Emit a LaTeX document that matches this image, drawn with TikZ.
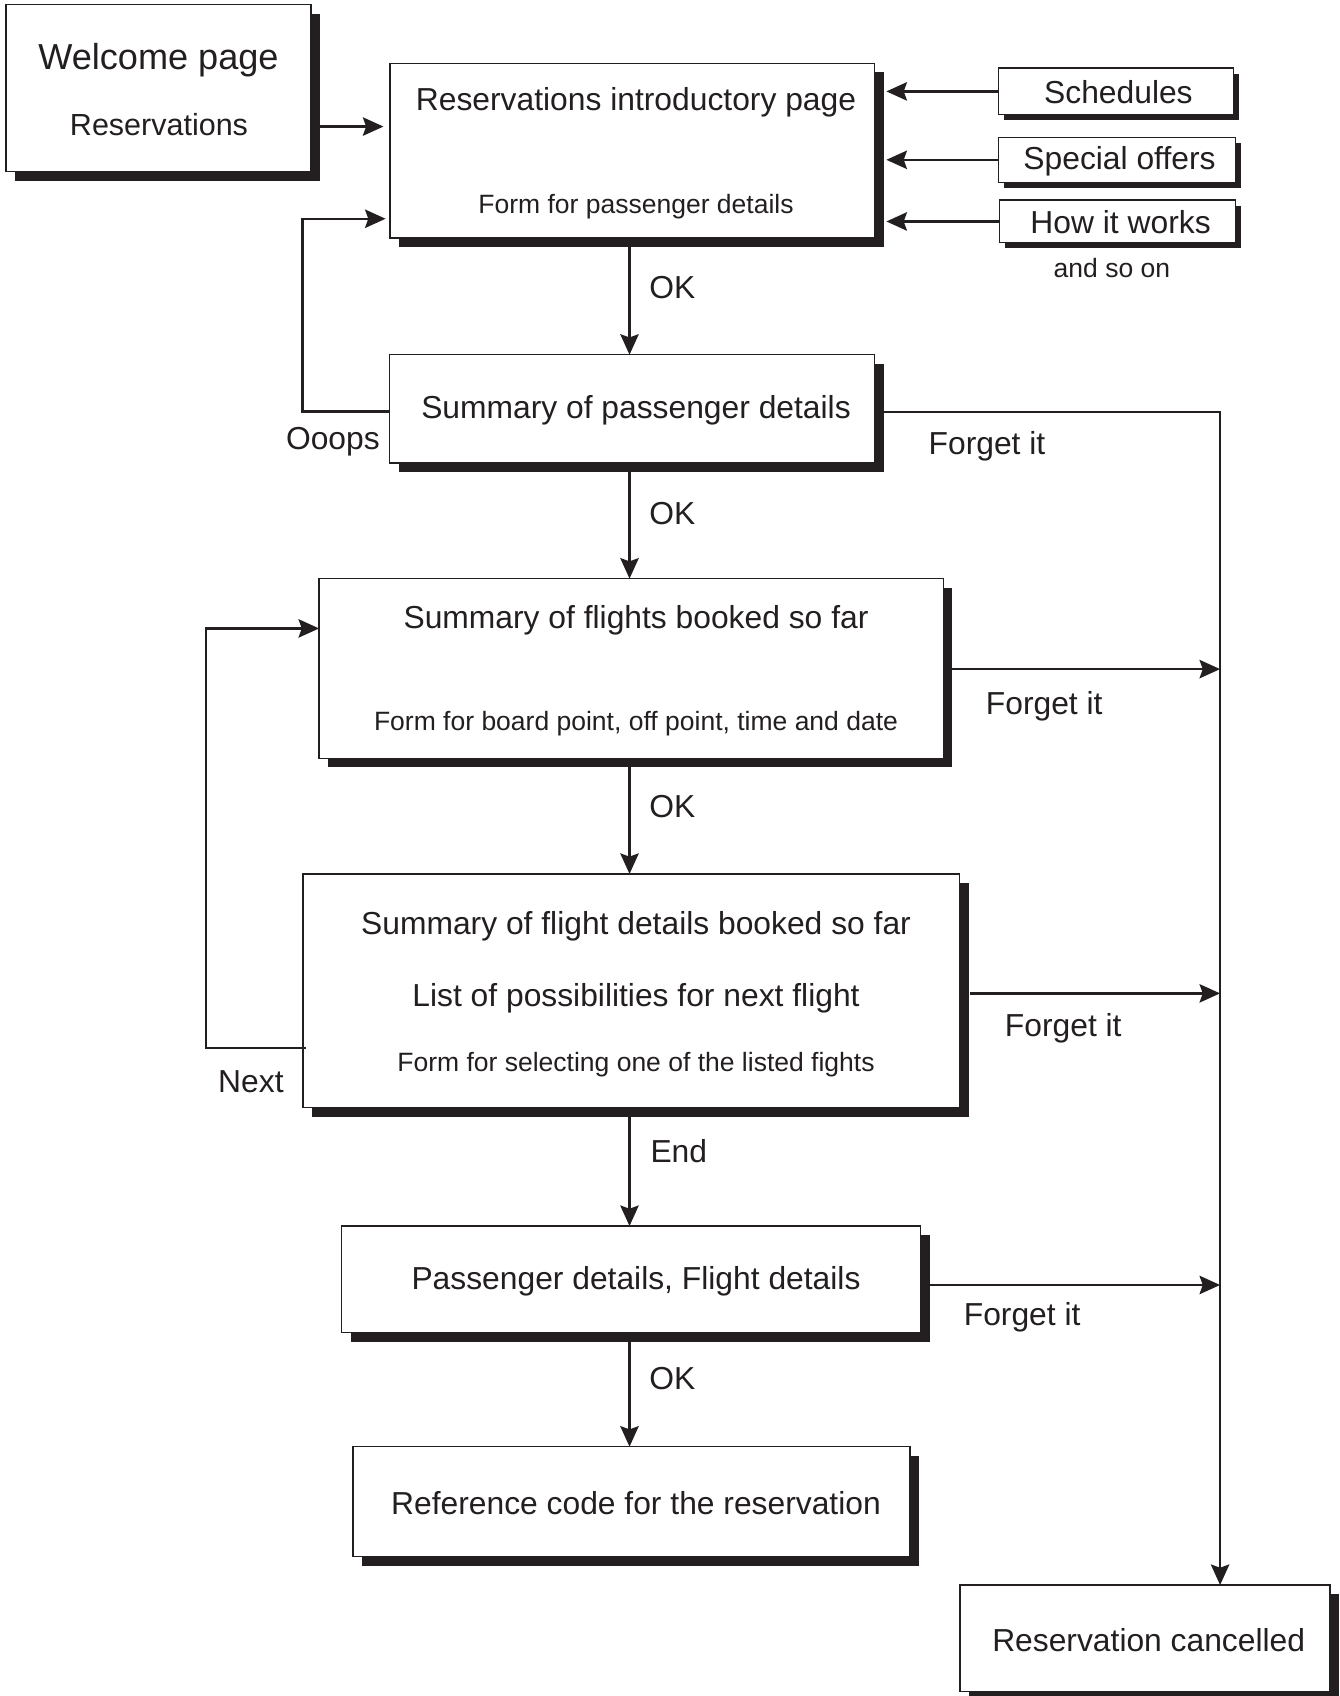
\documentclass[tikz,border=0pt]{standalone}
\usepackage{fontspec}
\setmainfont{Liberation Sans}
\usetikzlibrary{arrows.meta,calc,shadows}
\definecolor{ink}{HTML}{231F20}
\newcommand\txtbig{\fontsize{14.7pt}{17pt}\selectfont}
\newcommand\txtsmall{\fontsize{12.25pt}{14pt}\selectfont}
\newcommand\txtwelcome{\fontsize{16.7pt}{19pt}\selectfont}
\newcommand\txtres{\fontsize{14.1pt}{17pt}\selectfont}
\tikzset{
  boxbase/.style={rectangle, draw=ink, line width=0.6pt, fill=white, inner sep=0pt, outer sep=0pt},
  page/.style={boxbase, drop shadow={shadow xshift=4.25pt, shadow yshift=-4.25pt, fill=ink, opacity=1}},
  tab/.style={boxbase, drop shadow={shadow xshift=2.5pt, shadow yshift=-2.5pt, fill=ink, opacity=1}},
  txt/.style={inner sep=0pt, anchor=base, text=ink},
  big/.style={txt, font=\txtbig},
  small/.style={txt, font=\txtsmall},
  arr/.style={draw=ink, line width=1.1pt, -{Stealth[length=9.5pt, width=8.5pt, inset=1.5pt]}}
}
\begin{document}
\begin{tikzpicture}[x=0.5pt, y=-0.5pt]
\useasboundingbox (0,0) rectangle (1238,1568);

% ---- pages ----
\node[page, minimum width=141pt,    minimum height=77.35pt] (welcome)  at (146.5,81.35) {};
\node[page, minimum width=224pt,    minimum height=80.75pt] (intro)    at (584.5,139.25) {};
\node[tab,  minimum width=108.75pt, minimum height=21.5pt]  (sched)    at (1031.75,84.5) {};
\node[tab,  minimum width=109.75pt, minimum height=20.75pt] (offers)   at (1032.75,147.75) {};
\node[tab,  minimum width=109.25pt, minimum height=19.75pt] (how)      at (1033.25,204.75) {};
\node[page, minimum width=224.25pt, minimum height=50pt]    (sumpass)  at (584.25,378) {};
\node[page, minimum width=288.5pt,  minimum height=83pt]    (flights)  at (583.5,618) {};
\node[page, minimum width=303.5pt,  minimum height=108pt]   (fdetails) at (583.5,916) {};
\node[page, minimum width=267.5pt,  minimum height=49.25pt] (pfd)      at (583.5,1182.75) {};
\node[page, minimum width=257.5pt,  minimum height=50.75pt] (refcode)  at (583.9,1388.25) {};
\node[page, minimum width=171pt,    minimum height=49.3pt]  (cancel)   at (1058.65,1514.7) {};

% ---- page texts ----
\node[txt, font=\txtwelcome] (t-welcome) at (146.5,64) {Welcome page};
\node[txt, font=\txtres]     (t-res)     at (147,125.5) {Reservations};
\node[big]   (t-intro)   at (588,102)   {Reservations introductory page};
\node[small] (t-form1)   at (588,197.5) {Form for passenger details};
\node[big]   (t-sched)   at (1034,96)    {Schedules};
\node[big]   (t-offers)  at (1035,156.5) {Special offers};
\node[big]   (t-how)     at (1036,215.5) {How it works};
\node[small] (t-soon)    at (1028,256.5) {and so on};
\node[big]   (t-sumpass) at (588,386.8) {Summary of passenger details};
\node[big]   (t-flights) at (588,581)   {Summary of flights booked so far};
\node[small] (t-form2)   at (588,675)   {Form for board point, off point, time and date};
\node[big]   (t-fd1)     at (588,863.5) {Summary of flight details booked so far};
\node[big]   (t-fd2)     at (588,930.7) {List of possibilities for next flight};
\node[small] (t-fd3)     at (588,990.8) {Form for selecting one of the listed fights};
\node[big]   (t-pfd)     at (588,1192)  {Passenger details, Flight details};
\node[big]   (t-ref)     at (588,1399.8) {Reference code for the reservation};
\node[big]   (t-cancel)  at (1062,1527) {Reservation cancelled};

% ---- connectors ----
\coordinate (axis) at (582,0);
\coordinate (trunk) at (1128,381);

\draw[arr] ($(welcome.east)+(7.5,35.65)$) -- ($(intro.west)+(-6,-22.25)$);

\draw[arr, shorten >=5.5pt] (sched.west)  -- (sched.west -| intro.east);
\draw[arr, shorten >=5.5pt] (offers.west) -- (offers.west -| intro.east);
\draw[arr, shorten >=5.5pt] (how.west)    -- (how.west -| intro.east);

\draw[arr] (axis |- intro.south)    -- (axis |- sumpass.north);
\draw[arr] (axis |- sumpass.south)  -- (axis |- flights.north);
\draw[arr] (axis |- flights.south)  -- (axis |- fdetails.north);
\draw[arr] (axis |- fdetails.south) -- (axis |- pfd.north);
\draw[arr] (axis |- pfd.south)      -- (axis |- refcode.north);

% back to the passenger form
\draw[arr] ($(sumpass.west)+(0,2.5)$) -- ++(-80.5,0) |- ($(intro.west)+(-4,63)$);
% next flight
\draw[arr] ($(fdetails.west)+(3,53)$) -- ++(-92.5,0) |- ($(flights.west)+(0,-37)$);

% cancellation trunk
\draw[arr] ($(sumpass.east)+(8.5,3)$) -- (trunk) -- (trunk |- cancel.north);
\draw[arr] ($(flights.east)+(8.5,0.6)$) coordinate (fl-out) -- (fl-out -| trunk);
\draw[arr] ($(fdetails.east)+(10,2.4)$) coordinate (fd-out) -- (fd-out -| trunk);
\draw[arr] ($(pfd.east)+(8.5,5.25)$) coordinate (pfd-out) -- (pfd-out -| trunk);

% ---- connector labels ----
\node[big, anchor=base west] (l-ok1) at (600,275.8) {OK};
\node[big, anchor=base west] (l-ok2) at (600,485)   {OK};
\node[big, anchor=base west] (l-ok3) at (600,756)   {OK};
\node[big, anchor=base west] (l-end) at (601,1075)  {End};
\node[big, anchor=base west] (l-ok4) at (600,1285)  {OK};
\node[big, anchor=base east] (l-oops) at (351.5,415.5) {Ooops};
\node[big] (l-next) at (232,1010) {Next};
\node[big] (l-fg1) at (912.5,420) {Forget it};
\node[big] (l-fg2) at (965.4,661) {Forget it};
\node[big] (l-fg3) at (983,958)   {Forget it};
\node[big] (l-fg4) at (945,1225)  {Forget it};
\end{tikzpicture}
\end{document}
